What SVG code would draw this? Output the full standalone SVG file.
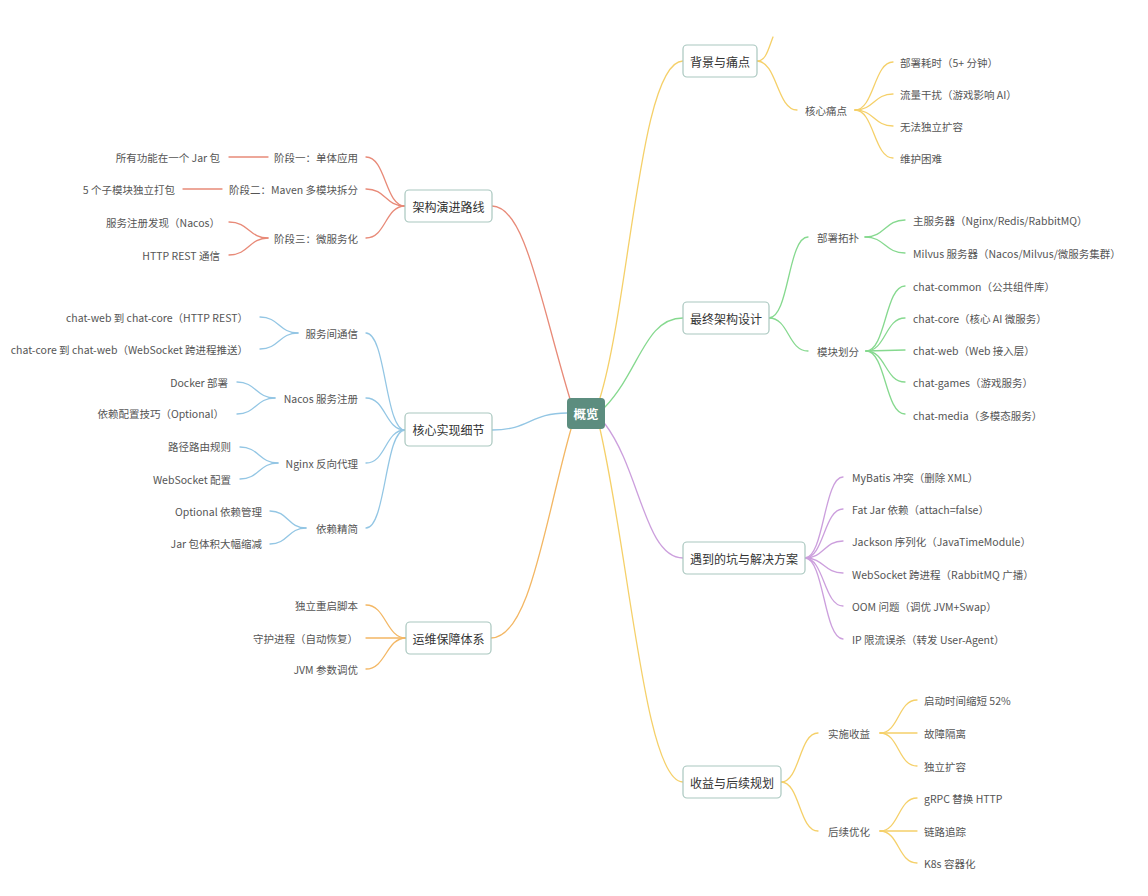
<svg xmlns="http://www.w3.org/2000/svg" width="1148" height="896" viewBox="0 0 1148 896">
<style>
text{font-family:"Noto Sans CJK SC","Liberation Sans",sans-serif;dominant-baseline:central}
.leaf{font-size:10.5px;fill:#555}
.l{text-anchor:end}
.t1{font-size:12px;fill:#333;text-anchor:middle}
.box{fill:#fff;stroke:#a9c7bf;stroke-width:1.2}
.root{fill:#5c8d7f}
.rt{font-size:12.5px;font-weight:bold;fill:#fff;text-anchor:middle}
path{fill:none;stroke-width:1.3;stroke-linecap:round}
.red{stroke:#e88a78}.yel{stroke:#f5d069}.grn{stroke:#86d98f}.blu{stroke:#93c6e4}.pur{stroke:#cc9fdd}.org{stroke:#f3b764}
</style>
<rect width="1148" height="896" fill="#fff"/>
<g id="connectors">
<!-- root -->
<path class="red" d="M570,399 C540,300 525,206 492,206"/>
<path class="yel" d="M600,398 C630,300 640,61 683,61"/>
<path class="grn" d="M605,407 C640,370 645,318 683,318"/>
<path class="blu" d="M567,413 C530,413 530,430 492,430"/>
<path class="pur" d="M605,424 C640,470 645,558 683,558"/>
<path class="org" d="M571,429 C545,520 530,638 491,638"/>
<path class="yel" d="M600,429 C630,560 645,782 683,782"/>
<!-- 架构演进路线 -->
<path class="red" d="M405,206 C385,206 386,157 366,157"/>
<path class="red" d="M405,206 C385,206 386,189 366,189"/>
<path class="red" d="M405,206 C385,206 386,238 366,238"/>
<path class="red" d="M229,157 L268,157"/>
<path class="red" d="M183,189 L222,189"/>
<path class="red" d="M268,238 C249,238 249,222 229,222"/>
<path class="red" d="M268,238 C249,238 249,255 229,255"/>
<!-- 核心实现细节 -->
<path class="blu" d="M405,430 C385,430 386,333 366,333"/>
<path class="blu" d="M405,430 C385,430 386,398 366,398"/>
<path class="blu" d="M405,430 C385,430 386,463 366,463"/>
<path class="blu" d="M405,430 C385,430 386,528 366,528"/>
<path class="blu" d="M298,333 C279,333 279,317 260,317"/>
<path class="blu" d="M298,333 C279,333 279,349 260,349"/>
<path class="blu" d="M275,398 C256,398 256,382 237,382"/>
<path class="blu" d="M275,398 C256,398 256,414 237,414"/>
<path class="blu" d="M278,463 C259,463 259,447 240,447"/>
<path class="blu" d="M278,463 C259,463 259,479 240,479"/>
<path class="blu" d="M306,528 C288,528 288,511 270,511"/>
<path class="blu" d="M306,528 C288,528 288,544 270,544"/>
<!-- 运维保障体系 -->
<path class="org" d="M406,638 C386,638 386,605 366,605"/>
<path class="org" d="M406,638 L366,638"/>
<path class="org" d="M406,638 C386,638 386,669 366,669"/>
<!-- 背景与痛点 -->
<path class="yel" d="M757,61 C766,61 768,50 773,37"/>
<path class="yel" d="M757,61 C777,61 777,110 797,110"/>
<path class="yel" d="M855,110 C874,110 874,62 893,62"/>
<path class="yel" d="M855,110 C874,110 874,94 893,94"/>
<path class="yel" d="M855,110 C874,110 874,126 893,126"/>
<path class="yel" d="M855,110 C874,110 874,158 893,158"/>
<!-- 最终架构设计 -->
<path class="grn" d="M769,318 C789,318 788,237 808,237"/>
<path class="grn" d="M769,318 C789,318 788,351 808,351"/>
<path class="grn" d="M865,237 C885,237 885,220 905,220"/>
<path class="grn" d="M865,237 C885,237 885,253 905,253"/>
<path class="grn" d="M866,351 C886,351 885,286 905,286"/>
<path class="grn" d="M866,351 C886,351 885,318 905,318"/>
<path class="grn" d="M866,351 L905,350"/>
<path class="grn" d="M866,351 C886,351 885,382 905,382"/>
<path class="grn" d="M866,351 C886,351 885,414 905,414"/>
<!-- 遇到的坑与解决方案 -->
<path class="pur" d="M805,558 C824,558 824,477 843,477"/>
<path class="pur" d="M805,558 C824,558 824,509 843,509"/>
<path class="pur" d="M805,558 C824,558 824,541 843,541"/>
<path class="pur" d="M805,558 C824,558 824,573 843,573"/>
<path class="pur" d="M805,558 C824,558 824,606 843,606"/>
<path class="pur" d="M805,558 C824,558 824,639 843,639"/>
<!-- 收益与后续规划 -->
<path class="yel" d="M781,782 C800,782 799,733 818,733"/>
<path class="yel" d="M781,782 C800,782 799,831 818,831"/>
<path class="yel" d="M880,733 C899,733 898,700 917,700"/>
<path class="yel" d="M880,733 L917,733"/>
<path class="yel" d="M880,733 C899,733 898,766 917,766"/>
<path class="yel" d="M880,831 C899,831 898,798 917,798"/>
<path class="yel" d="M880,831 L917,831"/>
<path class="yel" d="M880,831 C899,831 898,863 917,863"/>
</g>
<g id="root"><rect class="root" x="567" y="398" width="38" height="31" rx="4"/><text class="rt" x="586" y="413.5">概览</text></g>
<g id="n-bg"><rect class="box" x="683" y="45" width="74" height="32" rx="4"/><text class="t1" x="720" y="61">背景与痛点</text></g>
<g id="n-arch"><rect class="box" x="405" y="190" width="87" height="32" rx="4"/><text class="t1" x="448.5" y="206">架构演进路线</text></g>
<g id="n-final"><rect class="box" x="683" y="302" width="86" height="32" rx="4"/><text class="t1" x="726" y="318">最终架构设计</text></g>
<g id="n-core"><rect class="box" x="405" y="413" width="87" height="33" rx="4"/><text class="t1" x="448.5" y="429.5">核心实现细节</text></g>
<g id="n-pit"><rect class="box" x="683" y="542" width="122" height="32" rx="4"/><text class="t1" x="744" y="558">遇到的坑与解决方案</text></g>
<g id="n-ops"><rect class="box" x="406" y="622" width="85" height="32" rx="4"/><text class="t1" x="448.5" y="638">运维保障体系</text></g>
<g id="n-gain"><rect class="box" x="683" y="766" width="98" height="32" rx="4"/><text class="t1" x="732" y="782">收益与后续规划</text></g>

<g id="n-bg-c"><text class="leaf" x="805" y="110">核心痛点</text></g>
<g id="n-bg-c1"><text class="leaf" x="900" y="62">部署耗时（5+ 分钟）</text></g>
<g id="n-bg-c2"><text class="leaf" x="900" y="94">流量干扰（游戏影响 AI）</text></g>
<g id="n-bg-c3"><text class="leaf" x="900" y="126">无法独立扩容</text></g>
<g id="n-bg-c4"><text class="leaf" x="900" y="158">维护困难</text></g>

<g id="n-arch-1"><text class="leaf l" x="358" y="157">阶段一：单体应用</text></g>
<g id="n-arch-1a"><text class="leaf l" x="220" y="157">所有功能在一个 Jar 包</text></g>
<g id="n-arch-2"><text class="leaf l" x="358" y="189">阶段二：Maven 多模块拆分</text></g>
<g id="n-arch-2a"><text class="leaf l" x="175" y="189">5 个子模块独立打包</text></g>
<g id="n-arch-3"><text class="leaf l" x="358" y="238">阶段三：微服务化</text></g>
<g id="n-arch-3a"><text class="leaf l" x="220" y="222">服务注册发现（Nacos）</text></g>
<g id="n-arch-3b"><text class="leaf l" x="220" y="255">HTTP REST 通信</text></g>

<g id="n-final-1"><text class="leaf" x="817" y="237">部署拓扑</text></g>
<g id="n-final-1a"><text class="leaf" x="913" y="220">主服务器（Nginx/Redis/RabbitMQ）</text></g>
<g id="n-final-1b"><text class="leaf" x="913" y="253">Milvus 服务器（Nacos/Milvus/微服务集群）</text></g>
<g id="n-final-2"><text class="leaf" x="817" y="351">模块划分</text></g>
<g id="n-final-2a"><text class="leaf" x="913" y="286">chat-common（公共组件库）</text></g>
<g id="n-final-2b"><text class="leaf" x="913" y="318">chat-core（核心 AI 微服务）</text></g>
<g id="n-final-2c"><text class="leaf" x="913" y="350">chat-web（Web 接入层）</text></g>
<g id="n-final-2d"><text class="leaf" x="913" y="382">chat-games（游戏服务）</text></g>
<g id="n-final-2e"><text class="leaf" x="913" y="415">chat-media（多模态服务）</text></g>

<g id="n-core-1"><text class="leaf l" x="358" y="333">服务间通信</text></g>
<g id="n-core-1a"><text class="leaf l" x="248" y="317">chat-web 到 chat-core（HTTP REST）</text></g>
<g id="n-core-1b"><text class="leaf l" x="248" y="349">chat-core 到 chat-web（WebSocket 跨进程推送）</text></g>
<g id="n-core-2"><text class="leaf l" x="358" y="398">Nacos 服务注册</text></g>
<g id="n-core-2a"><text class="leaf l" x="228" y="382">Docker 部署</text></g>
<g id="n-core-2b"><text class="leaf l" x="224" y="413">依赖配置技巧（Optional）</text></g>
<g id="n-core-3"><text class="leaf l" x="358" y="463">Nginx 反向代理</text></g>
<g id="n-core-3a"><text class="leaf l" x="231" y="446">路径路由规则</text></g>
<g id="n-core-3b"><text class="leaf l" x="231" y="479">WebSocket 配置</text></g>
<g id="n-core-4"><text class="leaf l" x="358" y="528">依赖精简</text></g>
<g id="n-core-4a"><text class="leaf l" x="262" y="511">Optional 依赖管理</text></g>
<g id="n-core-4b"><text class="leaf l" x="262" y="543">Jar 包体积大幅缩减</text></g>

<g id="n-pit-1"><text class="leaf" x="852" y="477">MyBatis 冲突（删除 XML）</text></g>
<g id="n-pit-2"><text class="leaf" x="852" y="509">Fat Jar 依赖（attach=false）</text></g>
<g id="n-pit-3"><text class="leaf" x="852" y="541">Jackson 序列化（JavaTimeModule）</text></g>
<g id="n-pit-4"><text class="leaf" x="852" y="574">WebSocket 跨进程（RabbitMQ 广播）</text></g>
<g id="n-pit-5"><text class="leaf" x="852" y="606">OOM 问题（调优 JVM+Swap）</text></g>
<g id="n-pit-6"><text class="leaf" x="852" y="639">IP 限流误杀（转发 User-Agent）</text></g>

<g id="n-ops-1"><text class="leaf l" x="358" y="605">独立重启脚本</text></g>
<g id="n-ops-2"><text class="leaf l" x="358" y="638">守护进程（自动恢复）</text></g>
<g id="n-ops-3"><text class="leaf l" x="358" y="669">JVM 参数调优</text></g>

<g id="n-gain-1"><text class="leaf" x="828" y="733">实施收益</text></g>
<g id="n-gain-1a"><text class="leaf" x="924" y="700">启动时间缩短 52%</text></g>
<g id="n-gain-1b"><text class="leaf" x="924" y="733">故障隔离</text></g>
<g id="n-gain-1c"><text class="leaf" x="924" y="766">独立扩容</text></g>
<g id="n-gain-2"><text class="leaf" x="828" y="831">后续优化</text></g>
<g id="n-gain-2a"><text class="leaf" x="924" y="798">gRPC 替换 HTTP</text></g>
<g id="n-gain-2b"><text class="leaf" x="924" y="831">链路追踪</text></g>
<g id="n-gain-2c"><text class="leaf" x="924" y="863">K8s 容器化</text></g>
</svg>
